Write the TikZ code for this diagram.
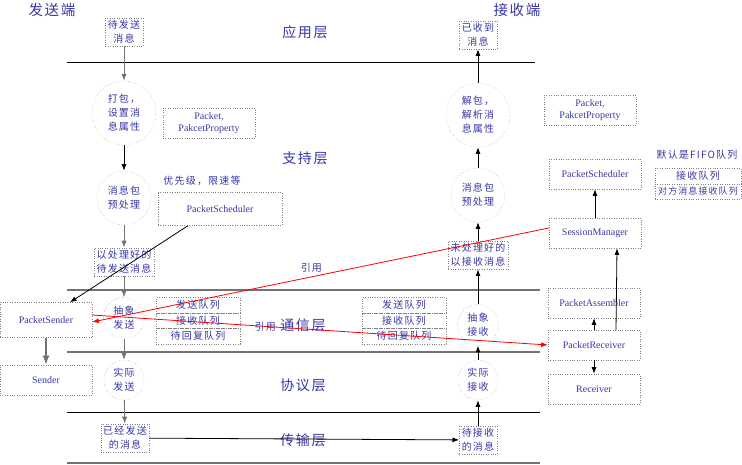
\documentclass[tikz,border=0pt]{standalone}
\usepackage{fontspec}
\setmainfont{Noto Sans CJK SC}[LetterSpace=12]
\newfontfamily\latinfont{Liberation Serif}
\usetikzlibrary{arrows.meta,positioning}
\definecolor{txtblue}{RGB}{55,55,165}
\definecolor{linegray}{RGB}{115,115,115}

\begin{document}
\begin{tikzpicture}[x=1pt, y=-1pt, >=Latex,
  every node/.style={align=center, text=txtblue, font=\fontsize{10}{14}\selectfont},
  box/.style={draw=gray, dotted, inner sep=2.5pt},
  cls/.style={box, font=\latinfont\fontsize{10}{12}\selectfont, minimum width=92pt, minimum height=30pt},
  proc/.style={draw=gray, dotted, circle, inner sep=0pt},
  queue/.style={box, minimum width=84pt, minimum height=15.5pt, inner sep=0pt},
  layer/.style={font=\fontsize{14}{16}\selectfont},
  side/.style={font=\fontsize{14.5}{16}\selectfont},
  flow/.style={->, line width=0.9pt, linegray},
  rflow/.style={->, line width=0.8pt, black},
  ref/.style={->, red, line width=0.8pt}]
\useasboundingbox (0,0) rectangle (742,464);

% layer separators
\draw[line width=1pt] (67,62) -- (535,62);
\draw[line width=1.6pt, linegray] (67,290) -- (540,290);
\draw[line width=1.6pt, linegray] (67,352) -- (540,352);
\draw[line width=1pt] (67,412) -- (540,412);
\draw[line width=1.6pt, linegray] (67,463) -- (540,463);

\node[side] (sendend) at (52,10) {发送端};
\node[side] (recvend) at (517,10) {接收端};
\node[layer] (lapp) at (305,32) {应用层};
\node[layer] (lsup) at (305,158) {支持层};
\node[layer] (lcom) at (303,325) {通信层};
\node[layer] (lpro) at (303,385) {协议层};
\node[layer] (ltra) at (303,440) {传输层};

% sender column
\node[box] (smsg) at (124,32) {待发送\\消息};
\node[proc, minimum size=64pt] (pack) at (124,113) {打包，\\设置消\\息属性};
\node[proc, minimum size=54pt] (spre) at (124,198) {消息包\\预处理};
\node[box] (sready) at (124,262) {以处理好的\\待发送消息};
\node[proc, minimum size=41pt] (sabs) at (124,318) {抽象\\发送};
\node[proc, minimum size=40pt] (sreal) at (124,380) {实际\\发送};
\node[box] (sdone) at (125,438) {已经发送\\的消息};

\node[cls] (spkt) at (209,123) {Packet,\\PakcetProperty};
\node (prio) at (202,181) {优先级，限速等};
\node[cls, minimum width=124pt, minimum height=33pt] (ssched) at (220,209) {PacketScheduler};
\node[cls, minimum height=35pt] (psend) at (46,320) {PacketSender};
\node[cls] (sender) at (46,380) {Sender};

\node[queue] (sq1) at (198,305) {发送队列};
\node[queue] (sq2) at (198,320.5) {接收队列};
\node[queue] (sq3) at (198,336) {待回复队列};

% receiver column
\node[box] (rmsg) at (478,35) {已收到\\消息};
\node[proc, minimum size=64pt] (unpack) at (478,115) {解包，\\解析消\\息属性};
\node[proc, minimum size=54pt] (rpre) at (478,195) {消息包\\预处理};
\node[box] (rready) at (478,255) {未处理好的\\以接收消息};
\node[proc, minimum size=41pt] (rabs) at (478,325) {抽象\\接收};
\node[proc, minimum size=40pt] (rreal) at (478,380) {实际\\接收};
\node[box] (rwait) at (478,440) {待接收\\的消息};

\node[queue] (rq1) at (404,305) {发送队列};
\node[queue] (rq2) at (404,320.5) {接收队列};
\node[queue] (rq3) at (404,336) {待回复队列};

\node[cls] (rpkt) at (590,110) {Packet,\\PakcetProperty};
\node (fifo) at (697,155) {默认是FIFO队列};
\node[queue, minimum width=86pt] (fq1) at (698,176) {接收队列};
\node[queue, minimum width=86pt, font=\fontsize{9}{11}\selectfont] (fq2) at (698,191.5) {对方消息接收队列};
\node[cls] (rsched) at (595,174) {PacketScheduler};
\node[cls] (smgr) at (595,233) {SessionManager};
\node[cls] (passm) at (594,303) {PacketAssembler};
\node[cls] (precv) at (594,345) {PacketReceiver};
\node[cls] (recv) at (594,389) {Receiver};

% sender flow
\draw[flow] (smsg) -- (pack);
\draw[rflow] (pack) -- (spre);
\draw[flow] (spre) -- (sready);
\draw[flow] (sready) -- (sabs);
\draw[flow] (sabs) -- (sreal);
\draw[flow] (sreal) -- (sdone);
\draw[flow, line width=1.4pt] (psend) -- (sender);
\draw[rflow] ([xshift=-32pt]ssched.south) -- ([xshift=24pt]psend.north);
\draw[rflow] (sdone) -- (rwait);

% receiver flow
\draw[rflow] (rwait) -- (rreal);
\draw[rflow] (rreal) -- (rabs);
\draw[rflow] (rabs) -- (rready);
\draw[rflow] (rready) -- (rpre);
\draw[rflow] (rpre) -- (unpack);
\draw[rflow] (unpack) -- (rmsg);
\draw[rflow] (smgr) -- (rsched);
\draw[rflow] (precv) -- (passm);
\draw[rflow] (precv) -- (recv);
\draw[rflow] ([xshift=22pt]precv.north) -- ([xshift=22pt]smgr.south);

% references
\draw[ref] ([yshift=5pt]smgr.west) -- node[pos=0.52, above=1pt] {引用} ([yshift=-2pt]psend.east);
\draw[ref] ([yshift=5pt]psend.east) -- node[pos=0.38] {引用} (precv.west);
\end{tikzpicture}
\end{document}
